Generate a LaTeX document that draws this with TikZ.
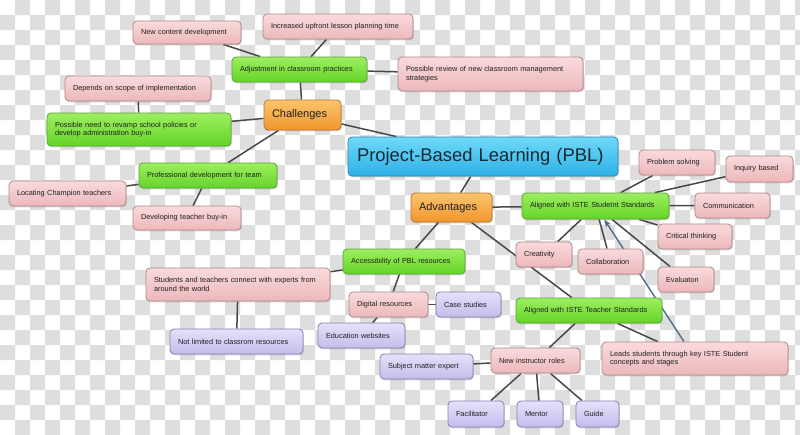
\documentclass[tikz,border=0pt]{standalone}
\usepackage{fontspec}
\setmainfont{Liberation Sans}
\usetikzlibrary{shadows,arrows.meta}
\pgfdeclarelayer{checker}
\pgfdeclarelayer{edges}
\pgfsetlayers{checker,edges,main}
\definecolor{checkgray}{RGB}{222,222,222}
\definecolor{pinktop}{RGB}{250,218,219}
\definecolor{pinkbot}{RGB}{236,184,187}
\definecolor{pinkdraw}{RGB}{176,136,138}
\definecolor{greentop}{RGB}{158,238,96}
\definecolor{greenbot}{RGB}{100,212,40}
\definecolor{greendraw}{RGB}{88,166,52}
\definecolor{orangetop}{RGB}{252,196,110}
\definecolor{orangebot}{RGB}{240,150,46}
\definecolor{orangedraw}{RGB}{186,118,44}
\definecolor{bluetop}{RGB}{110,218,248}
\definecolor{bluebot}{RGB}{46,176,230}
\definecolor{bluedraw}{RGB}{38,136,186}
\definecolor{purptop}{RGB}{230,224,250}
\definecolor{purpbot}{RGB}{198,188,236}
\definecolor{purpdraw}{RGB}{136,126,176}
\definecolor{edgecol}{RGB}{72,72,72}
\definecolor{arrowcol}{RGB}{76,110,138}
\definecolor{titletext}{RGB}{26,40,52}
\def\sq{15}
\tikzset{
  box/.style={rounded corners=4pt, draw, line width=0.8pt, inner xsep=8pt, inner ysep=2pt,
    align=left, font=\fontsize{7.35}{8.8}\selectfont, text=black!88,
    drop shadow={shadow xshift=0.8pt, shadow yshift=-1.3pt, opacity=0.3}},
  pinkbox/.style={box, draw=pinkdraw, top color=pinktop, bottom color=pinkbot},
  greenbox/.style={box, draw=greendraw, top color=greentop, bottom color=greenbot},
  purpbox/.style={box, draw=purpdraw, top color=purptop, bottom color=purpbot},
  orangebox/.style={box, draw=orangedraw, top color=orangetop, bottom color=orangebot,
    font=\fontsize{11}{13}\selectfont},
  bluebox/.style={box, draw=bluedraw, top color=bluetop, bottom color=bluebot,
    font=\fontsize{18.4}{22}\selectfont, text=titletext, inner xsep=9pt},
  dims/.style 2 args={text width=#1, minimum height=#2},
  edge/.style={draw=edgecol, line width=1.5pt},
  arrowedge/.style={draw=arrowcol, line width=1.4pt, -{Stealth[length=8pt,width=6pt]}}
}
\begin{document}
\begin{tikzpicture}[x=1pt,y=-1pt]
\useasboundingbox (0,0) rectangle (800,434);
\begin{pgfonlayer}{checker}
\begin{scope}
\clip (0,0) rectangle (800,434);
\fill[white] (0,0) rectangle (800,434);
\fill[checkgray] \foreach \j in {0,2,...,28} { \foreach \i in {1,3,...,53} { (\i*\sq,\j*\sq) rectangle ++(\sq,\sq) } };
\fill[checkgray] \foreach \j in {1,3,...,27} { \foreach \i in {0,2,...,52} { (\i*\sq,\j*\sq) rectangle ++(\sq,\sq) } };
\end{scope}
\end{pgfonlayer}

% challenges branch
\node[pinkbox, dims={92pt}{23pt}] (ncd) at (187,32.5) {New content development};
\node[pinkbox, dims={134pt}{25pt}] (iulp) at (338,26.5) {Increased upfront lesson planning time};
\node[greenbox, dims={119pt}{25pt}] (adj) at (299.5,69.5) {Adjustment in classroom practices};
\node[pinkbox, dims={169pt}{34pt}] (prc) at (490.5,74) {Possible review of new classroom management\\strategies};
\node[pinkbox, dims={130pt}{25pt}] (dep) at (138,88.5) {Depends on scope of implementation};
\node[greenbox, dims={168pt}{33pt}] (rev) at (139,129.5) {Possible need to revamp school policies or\\develop administration buy-in};
\node[orangebox, dims={61pt}{30pt}] (chal) at (302.5,115) {Challenges};
\node[greenbox, dims={122pt}{25pt}] (pdt) at (208,175.5) {Professional development for team};
\node[pinkbox, dims={101pt}{25pt}] (loc) at (67.5,193.5) {Locating Champion teachers};
\node[pinkbox, dims={92pt}{24pt}] (dtb) at (187,218) {Developing teacher buy-in};

% centre
\node[bluebox, dims={252pt}{39pt}] (pbl) at (483,156.5) {Project-Based Learning (PBL)};

% advantages branch
\node[orangebox, dims={65pt}{29pt}] (adv) at (451.5,207.5) {Advantages};
\node[greenbox, dims={131pt}{26pt}] (stu) at (595.5,206) {Aligned with ISTE Studetnt Standards};
\node[pinkbox, dims={60pt}{25pt}] (prb) at (677,162.5) {Problem solving};
\node[pinkbox, dims={51pt}{26pt}] (inq) at (759.5,169) {Inquiry based};
\node[pinkbox, dims={59pt}{25pt}] (com) at (732.5,205.5) {Communication};
\node[pinkbox, dims={58pt}{25pt}] (cri) at (695,236.5) {Critical thinking};
\node[pinkbox, dims={40pt}{25pt}] (eva) at (686,279.5) {Evaluaton};
\node[pinkbox, dims={40pt}{25pt}] (cre) at (544,254.5) {Creativity};
\node[pinkbox, dims={49pt}{25pt}] (col) at (610.5,261.5) {Collaboration};

\node[greenbox, dims={106pt}{25pt}] (acc) at (404,261.5) {Accessibility of PBL resources};
\node[pinkbox, dims={168pt}{33pt}] (stc) at (238,284.5) {Students and teachers connect with experts from\\around the world};
\node[purpbox, dims={117pt}{25pt}] (nlc) at (236.5,341.5) {Not limited to classrom resources};
\node[pinkbox, dims={63pt}{25pt}] (dig) at (388.5,304.5) {Digital resources};
\node[purpbox, dims={49pt}{25pt}] (cas) at (468.5,304.5) {Case studies};
\node[purpbox, dims={71pt}{25pt}] (edu) at (361.5,335.5) {Education websites};

\node[greenbox, dims={130pt}{25pt}] (tea) at (589,310.5) {Aligned with ISTE Teacher Standards};
\node[pinkbox, dims={170pt}{33pt}] (lea) at (695,358.5) {Leads students through key ISTE Student\\concepts and stages};
\node[pinkbox, dims={73pt}{25pt}] (nir) at (535.5,360.5) {New instructor roles};
\node[purpbox, dims={77pt}{25pt}] (sme) at (426.5,366.5) {Subject matter expert};
\node[purpbox, dims={40pt}{26pt}] (fac) at (476,414) {Facilitator};
\node[purpbox, dims={30pt}{26pt}] (men) at (540,414) {Mentor};
\node[purpbox, dims={27pt}{26pt}] (gui) at (597.5,414) {Guide};

\begin{pgfonlayer}{edges}
\path[edge] (adj) -- (ncd);
\path[edge] (adj) -- (iulp);
\path[edge] (adj) -- (prc);
\path[edge] (adj) -- (chal);
\path[edge] (dep) -- (rev);
\path[edge] (chal) -- (rev);
\path[edge] (chal) -- (pdt);
\path[edge] (chal) -- (pbl);
\path[edge] (pdt) -- (loc);
\path[edge] (pdt) -- (dtb);
\path[edge] (pbl) -- (adv);
\path[edge] (adv) -- (stu);
\path[edge] (adv) -- (acc);
\path[edge] (adv) -- (tea);
\path[edge] (stu) -- (prb);
\path[edge] (stu) -- (inq);
\path[edge] (stu) -- (com);
\path[edge] (stu) -- (cri);
\path[edge] (stu) -- (eva);
\path[edge] (stu) -- (cre);
\path[edge] (stu) -- (col);
\path[edge] (acc) -- (stc);
\path[edge] (acc) -- (dig);
\path[edge] (stc) -- (nlc);
\path[edge] (dig) -- (cas);
\path[edge] (dig) -- (edu);
\path[edge] (tea) -- (lea);
\path[edge] (tea) -- (nir);
\path[edge] (nir) -- (sme);
\path[edge] (nir) -- (fac);
\path[edge] (nir) -- (men);
\path[edge] (nir) -- (gui);
\path[arrowedge] (lea) -- (stu);
\end{pgfonlayer}
\end{tikzpicture}
\end{document}
